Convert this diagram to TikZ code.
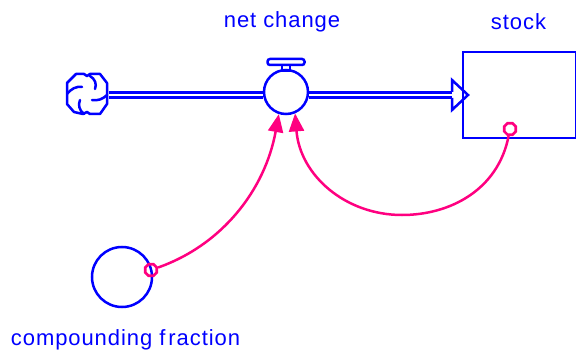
\documentclass[tikz,border=0pt]{standalone}
\usepackage{fontspec}
\setmainfont[LetterSpace=4.2]{Liberation Sans}
\usetikzlibrary{arrows.meta,shapes.geometric,calc}
\definecolor{sdblue}{RGB}{0,0,255}
\definecolor{sdpink}{RGB}{255,0,128}
\tikzset{
  sdline/.style={draw=sdblue,line width=2.5pt},
  sdflow/.style={draw=sdblue,line width=2.4pt,double=white,double distance=2.8pt},
  sdlink/.style={draw=sdpink,line width=2.5pt,-{Triangle[length=18pt,width=15pt,fill=sdpink]}},
  sdport/.style={regular polygon,regular polygon sides=8,draw=sdpink,line width=2.6pt,inner sep=0pt,minimum size=12.5pt,fill=none},
  sdlabel/.style={text=sdblue,font=\fontsize{22}{24}\selectfont,inner sep=0pt,anchor=base}
}
\begin{document}
\begin{tikzpicture}[x=1pt,y=-1pt]
\useasboundingbox (0,0) rectangle (576,350);
% flows
\node[circle,minimum size=44pt,inner sep=0pt] (source) at (87,94) {};
\node[circle,sdline,minimum size=44pt,inner sep=0pt] (valve) at (286,92) {};
\node[rectangle,sdline,minimum width=113pt,minimum height=86pt,inner sep=0pt] (stock) at (519.5,95) {};
\node[circle,sdline,minimum size=60pt,inner sep=0pt] (frac) at (122,277) {};
\coordinate (headbase) at (452,95);
\coordinate (headtip) at (468,95);
\draw[sdflow] (source.east |- headbase) -- (valve.west |- headbase);
\draw[sdflow] (valve.east |- headbase) -- (headbase);
\draw[sdline,line join=miter]
  ($(headbase)+(0,-3)$) -- ($(headbase)+(0,-15)$) -- (headtip) -- ($(headbase)+(0,15)$) -- ($(headbase)+(0,3)$);
% source cloud
\begin{scope}[shift={(source.center)}]
\draw[sdline,line join=round,line cap=round]
  (0,-18) -- (-3,-20) -- (-11,-20) -- (-20,-11) -- (-20,10) -- (-13,18) -- (-4,20) -- (0,18)
  -- (3,20) -- (13,20) -- (20,10) -- (20,-11) -- (13,-20) -- (3,-20) -- cycle;
\draw[sdline,line cap=round] (3,-18) .. controls (8,-15) and (10,-10) .. (8,-5);
\draw[sdline,line cap=round] (20,1) .. controls (16,5) and (11,7) .. (5,6);
\draw[sdline,line cap=round] (-3,20) .. controls (-8,16) and (-9,11) .. (-7,6);
\draw[sdline,line cap=round] (-20,0) .. controls (-16,-5) and (-11,-8) .. (-5,-7);
\end{scope}
% valve handle
\node[rectangle,rounded corners=2.5pt,sdline,minimum width=37pt,minimum height=6pt,inner sep=0pt] (handle) at (286,62) {};
\node[rectangle,sdline,minimum width=8pt,minimum height=6pt,inner sep=0pt] (stem) at (286,68) {};
% ports
\node[sdport] (portA) at (510,129) {};
\node[sdport] (portB) at (151,270) {};
% links
\coordinate (low) at (402,215);
\draw[sdlink] (portB) .. controls (222,245) and (265,190) .. (valve.252);
\draw[sdlink] (portA) .. controls (498,190) and (450,215) .. (low) .. controls (345,215) and (300,175) .. (valve.-67);
% labels
\node[sdlabel] (l1) at (282,28) {net change};
\node[sdlabel] (l2) at (518.5,30) {stock};
\node[sdlabel] (l3) at (125.5,345) {compounding f\kern3pt raction};
\end{tikzpicture}
\end{document}
